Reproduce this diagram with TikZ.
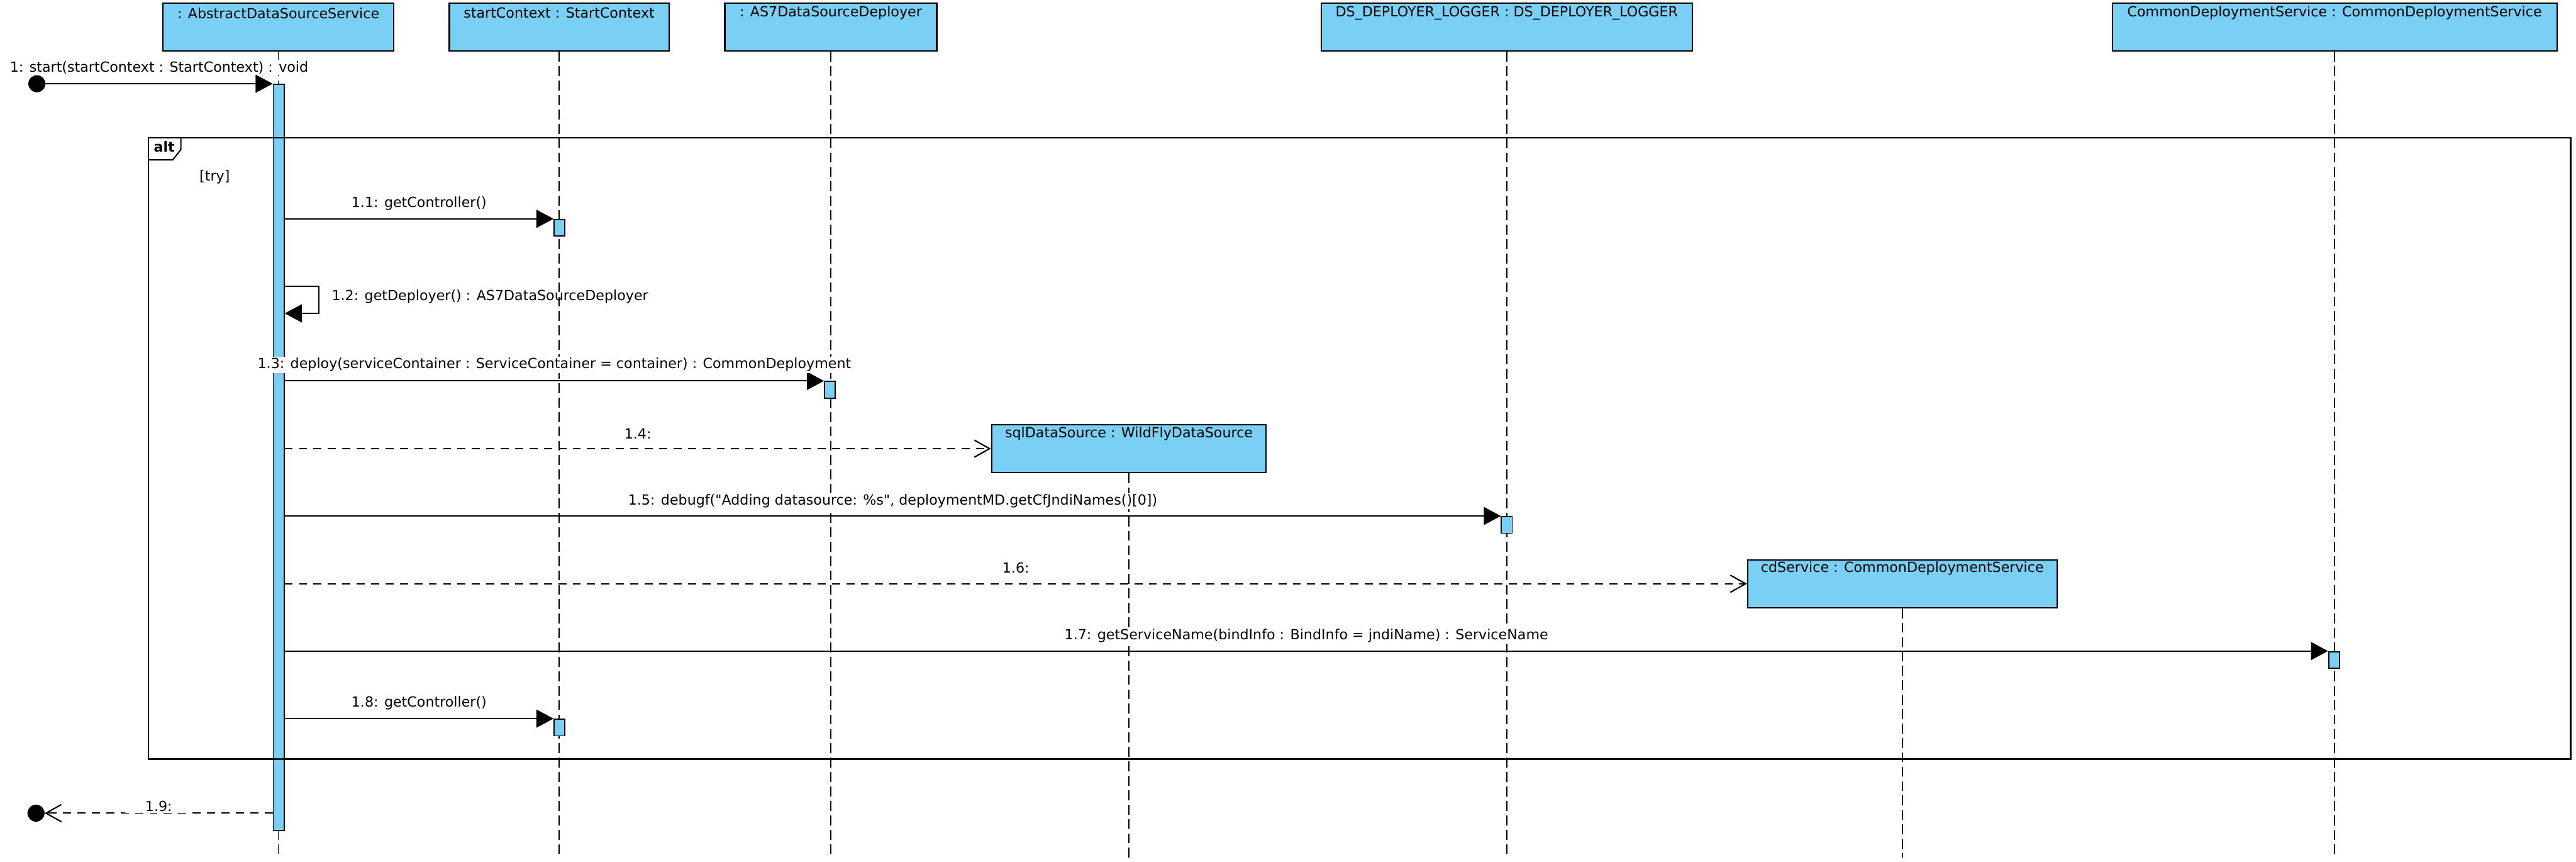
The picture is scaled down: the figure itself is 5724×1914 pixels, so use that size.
\documentclass[tikz,border=0pt]{standalone}
\usepackage{fontspec}
\setmainfont{DejaVu Sans}[Ligatures=TeXOff]
\usetikzlibrary{arrows.meta}
\definecolor{ubl}{RGB}{122,207,244}
\begin{document}
\begin{tikzpicture}[x=1pt,y=-1pt,
  every node/.style={font=\fontsize{31}{37}\selectfont},
  headbox/.style={draw, fill=ubl, line width=3pt, inner sep=0pt, anchor=north west},
  headtxt/.style={inner sep=0pt, anchor=center},
  life/.style={line width=2pt, dash pattern=on 22pt off 10pt},
  bar/.style={draw, fill=ubl, line width=2.5pt, inner sep=0pt, minimum width=24pt, anchor=north west},
  msg/.style={line width=2.5pt, -{Triangle[length=38pt,width=40pt]}},
  create/.style={line width=3pt, dash pattern=on 18pt off 14pt, -{Straight Barb[length=34pt,width=38pt,line width=3pt]}},
  ret/.style={line width=3pt, dash pattern=on 18pt off 14pt, -{Straight Barb[length=34pt,width=38pt,line width=3pt]}},
  lbl/.style={fill=white, inner sep=3pt},
  dot/.style={circle, fill=black, minimum size=38pt, inner sep=0pt},
  frame/.style={line width=3pt}
]
\useasboundingbox (0,0) rectangle (5724,1914);
\coordinate (bot) at (0,1905);

% heads
\node[headbox, minimum width=512pt, minimum height=106pt] (h1) at (361,6) {};
\node[headbox, minimum width=488pt, minimum height=106pt] (h2) at (997,6) {};
\node[headbox, minimum width=471pt, minimum height=106pt] (h3) at (1609,6) {};
\node[headbox, minimum width=825pt, minimum height=106pt] (h4) at (2934,6) {};
\node[headbox, minimum width=988pt, minimum height=106pt] (h5) at (4692,6) {};
\node[headtxt] (t1) at ([yshift=-23pt]h1.north) {: AbstractDataSourceService};
\node[headtxt] (t2) at ([yshift=-23pt]h2.north) {startContext : StartContext};
\node[headtxt] (t3) at ([yshift=-23pt]h3.north) {: AS7DataSourceDeployer};
\node[headtxt] (t4) at ([yshift=-23pt]h4.north) {DS\_DEPLOYER\_LOGGER : DS\_DEPLOYER\_LOGGER};
\node[headtxt] (t5) at ([yshift=-23pt]h5.north) {CommonDeploymentService : CommonDeploymentService};

% created objects
\node[headbox, minimum width=610pt, minimum height=106pt] (sql) at (2202,942) {};
\node[headtxt] (tsql) at ([yshift=-21pt]sql.north) {sqlDataSource : WildFlyDataSource};
\node[headbox, minimum width=687pt, minimum height=106pt] (cd) at (3882,1242) {};
\node[headtxt] (tcd) at ([yshift=-21pt]cd.north) {cdService : CommonDeploymentService};

% lifelines
\foreach \h in {h1,h2,h3,h4,h5,sql,cd}
  \draw[life] (\h.south) -- (\h.south |- bot);

% activation bars
\node[bar, minimum height=1657pt] (mb) at (606,186) {};
\node[bar, minimum height=37pt] (b11) at (1230,486) {};
\node[bar, minimum height=37pt] (b13) at (1831,846) {};
\node[bar, minimum height=37pt] (b15) at (3335,1146) {};
\node[bar, minimum height=37pt] (b17) at (5173,1446) {};
\node[bar, minimum height=37pt] (b18) at (1230,1596) {};

% alt frame
\coordinate (fnw) at (330,306);
\coordinate (fse) at (5712,1686);
\draw[frame] (fnw) rectangle (fse);
\coordinate (tab1) at (330,355);
\coordinate (tab2) at (384,355);
\coordinate (tab3) at (402,332);
\coordinate (tab4) at (402,306);
\draw[frame] (tab1) -- (tab2) -- (tab3) -- (tab4);
\node[inner sep=0pt, font=\fontsize{31}{37}\selectfont\bfseries] (alt) at (365,326) {alt};
\node[inner sep=0pt] (try) at (477,393) {[try]};

% start message
\node[dot] (startdot) at (82,186) {};
\draw[msg] (startdot.east) -- (mb.north west)
  node[lbl, midway, yshift=36pt] (l1) {1: start(startContext : StartContext) : void};

% 1.1
\draw[msg] (mb.east |- b11.north west) -- (b11.north west)
  node[lbl, midway, yshift=34pt] (l11) {1.1: getController()};

% 1.2 self
\coordinate (s1) at (mb.east |- 0,636);
\coordinate (s2) at (708,636);
\coordinate (s3) at (708,696);
\coordinate (s4) at (mb.east |- 0,696);
\draw[msg] (s1) -- (s2) -- (s3) -- (s4);
\node[anchor=west, inner sep=0pt] (l12) at (737,659) {1.2: getDeployer() : AS7DataSourceDeployer};

% 1.3
\draw[msg] (mb.east |- b13.north west) -- (b13.north west)
  node[lbl, midway, yshift=36pt] (l13) {1.3: deploy(serviceContainer : ServiceContainer = container) : CommonDeployment};

% 1.4
\draw[create] (mb.east |- sql.west) -- (sql.west)
  node[lbl, midway, yshift=33pt] (l14) {1.4:};

% 1.5
\draw[msg] (mb.east |- b15.north west) -- (b15.north west)
  node[lbl, midway, yshift=33pt] (l15) {1.5: debugf("Adding datasource: \%s", deploymentMD.getCfJndiNames()[0])};

% 1.6
\draw[create] (mb.east |- cd.west) -- (cd.west)
  node[lbl, midway, yshift=35pt] (l16) {1.6:};

% 1.7
\draw[msg] (mb.east |- b17.north west) -- (b17.north west)
  node[lbl, midway, yshift=34pt] (l17) {1.7: getServiceName(bindInfo : BindInfo = jndiName) : ServiceName};

% 1.8
\draw[msg] (mb.east |- b18.north west) -- (b18.north west)
  node[lbl, midway, yshift=34pt] (l18) {1.8: getController()};

% 1.9 return
\node[dot] (enddot) at (80,1806) {};
\draw[ret] (mb.west |- enddot) -- (enddot.east)
  node[lbl, midway, yshift=15pt, inner xsep=45pt] (l19) {1.9:};

\end{tikzpicture}
\end{document}
